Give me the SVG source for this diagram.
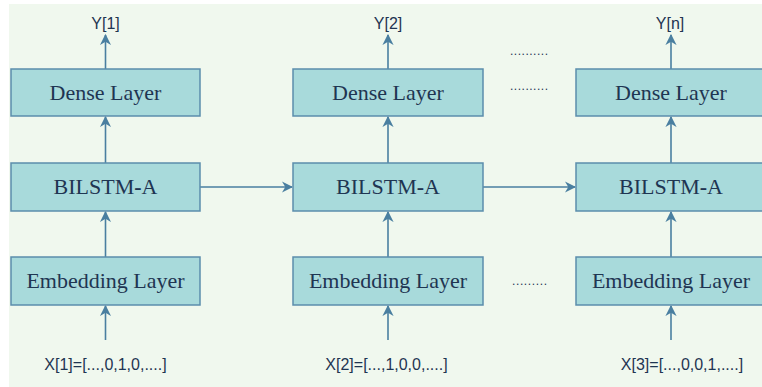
<svg xmlns="http://www.w3.org/2000/svg" width="762" height="387" viewBox="0 0 762 387">
<style>
.box{fill:#A8DADB;stroke:#5B8DAC;stroke-width:1.5}
.bt{font-family:"Liberation Serif","Times New Roman",serif;font-size:22px;fill:#1F3552;text-anchor:middle}
.lb{font-family:"Liberation Sans",Arial,sans-serif;font-size:16px;fill:#1F3552;text-anchor:middle}
.dots{font-family:"Liberation Sans",Arial,sans-serif;font-size:12px;fill:#1F3552}
.ar{stroke:#4A7FA0;stroke-width:1.6;fill:none;marker-end:url(#ah)}
</style>
<defs>
<marker id="ah" viewBox="0 0 10 10" refX="9" refY="5" markerWidth="7" markerHeight="7" markerUnits="strokeWidth" orient="auto">
<path d="M0,0 L10,5 L0,10 L3,5 Z" fill="#4A7FA0"/>
</marker>
</defs>
<rect x="9" y="4" width="753" height="383" fill="#F0F8EE"/>
<g id="connectors">
<line class="ar" x1="105.5" y1="69" x2="105.5" y2="35"/>
<line class="ar" x1="105.5" y1="163" x2="105.5" y2="117"/>
<line class="ar" x1="105.5" y1="257" x2="105.5" y2="212"/>
<line class="ar" x1="105.5" y1="340" x2="105.5" y2="306"/>
<line class="ar" x1="388" y1="69" x2="388" y2="35"/>
<line class="ar" x1="388" y1="163" x2="388" y2="117"/>
<line class="ar" x1="388" y1="257" x2="388" y2="212"/>
<line class="ar" x1="388" y1="340" x2="388" y2="306"/>
<line class="ar" x1="671" y1="69" x2="671" y2="35"/>
<line class="ar" x1="671" y1="163" x2="671" y2="117"/>
<line class="ar" x1="671" y1="257" x2="671" y2="212"/>
<line class="ar" x1="671" y1="340" x2="671" y2="306"/>
<line class="ar" x1="200" y1="187" x2="292" y2="187"/>
<line class="ar" x1="483" y1="187" x2="575" y2="187"/>
</g>
<g id="dense1"><rect class="box" x="11" y="69" width="189" height="47"/><text class="bt" x="105.5" y="100">Dense Layer</text></g>
<g id="bilstm1"><rect class="box" x="11" y="163" width="189" height="48"/><text class="bt" x="105.5" y="194">BILSTM<tspan font-weight="bold">-</tspan>A</text></g>
<g id="embed1"><rect class="box" x="11" y="257" width="189" height="48"/><text class="bt" x="105.5" y="288">Embedding Layer</text></g>
<g id="dense2"><rect class="box" x="293" y="69" width="190" height="47"/><text class="bt" x="388" y="100">Dense Layer</text></g>
<g id="bilstm2"><rect class="box" x="293" y="163" width="190" height="48"/><text class="bt" x="388" y="194">BILSTM<tspan font-weight="bold">-</tspan>A</text></g>
<g id="embed2"><rect class="box" x="293" y="257" width="190" height="48"/><text class="bt" x="388" y="288">Embedding Layer</text></g>
<g id="dense3"><rect class="box" x="576" y="69" width="190" height="47"/><text class="bt" x="671" y="100">Dense Layer</text></g>
<g id="bilstm3"><rect class="box" x="576" y="163" width="190" height="48"/><text class="bt" x="671" y="194">BILSTM<tspan font-weight="bold">-</tspan>A</text></g>
<g id="embed3"><rect class="box" x="576" y="257" width="190" height="48"/><text class="bt" x="671" y="288">Embedding Layer</text></g>
<g id="labels">
<text class="lb" x="105.5" y="29">Y[1]</text>
<text class="lb" x="388" y="29">Y[2]</text>
<text class="lb" x="670" y="29">Y[n]</text>
<text class="lb" x="105.5" y="370">X[1]=[...,0,1,0,....]</text>
<text class="lb" x="386.5" y="370">X[2]=[...,1,0,0,....]</text>
<text class="lb" x="682" y="370">X[3]=[...,0,0,1,....]</text>
<text class="dots" x="510" y="55" textLength="38" lengthAdjust="spacing">..........</text>
<text class="dots" x="510" y="90" textLength="38" lengthAdjust="spacing">..........</text>
<text class="dots" x="512" y="285" textLength="35" lengthAdjust="spacing">.........</text>
</g>
</svg>
